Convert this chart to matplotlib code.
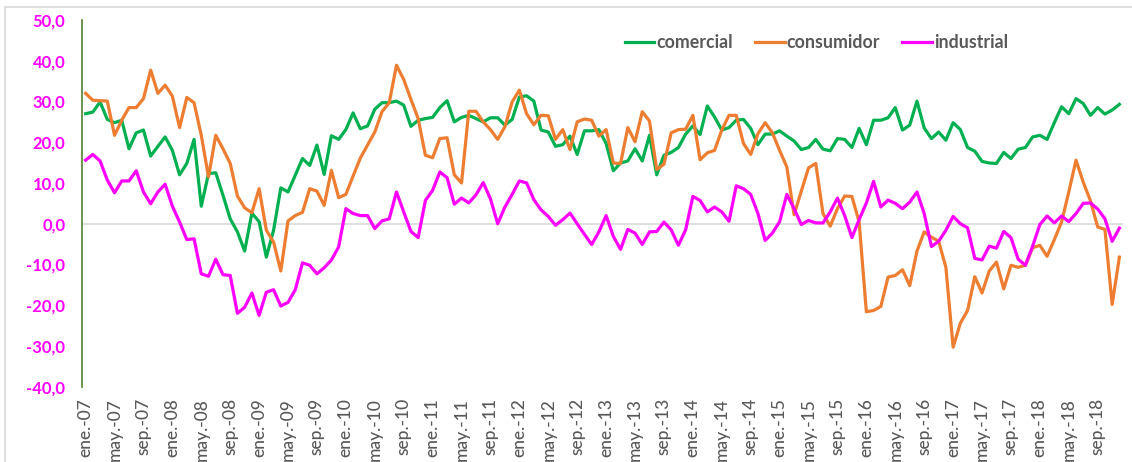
import matplotlib
matplotlib.use("Agg")
import matplotlib.pyplot as plt
from matplotlib.patches import Rectangle
from matplotlib.ticker import FuncFormatter

# ---- data (monthly, ene-2007 .. dic-2018) ----
comercial = [
    27.0, 27.4, 29.9, 25.6, 24.8, 25.4, 18.4, 22.3, 23.0, 16.6, 19.0, 21.3,
    18.0, 12.0, 14.8, 20.7, 4.3, 12.3, 12.5, 7.0, 1.2, -2.0, -6.7, 2.6,
    0.5, -8.2, -1.6, 8.8, 7.8, 11.9, 16.0, 14.3, 19.3, 12.1, 21.6, 20.7,
    23.1, 27.2, 23.3, 24.0, 28.1, 29.7, 29.7, 30.1, 29.1, 23.9, 25.4, 25.8,
    26.1, 28.5, 30.2, 25.0, 26.1, 26.6, 25.8, 25.0, 26.0, 26.0, 24.2, 25.6,
    31.1, 31.4, 30.1, 23.0, 22.5, 19.0, 19.4, 21.5, 17.0, 22.8, 22.8, 23.1,
    19.7, 13.0, 14.9, 15.4, 18.4, 15.4, 21.7, 12.0, 16.8, 17.5, 18.7, 22.0,
    24.0, 21.9, 28.9, 26.2, 23.0, 23.6, 25.4, 25.6, 23.4, 19.4, 22.0, 22.0,
    22.8, 21.5, 20.3, 18.2, 18.7, 20.7, 18.3, 17.9, 20.9, 20.7, 18.7, 23.4,
    19.4, 25.4, 25.4, 26.0, 28.5, 23.0, 24.2, 30.1, 23.5, 20.9, 22.5, 20.5,
    24.8, 23.1, 18.7, 17.8, 15.3, 14.9, 14.8, 17.5, 16.0, 18.3, 18.7, 21.3,
    21.7, 20.7, 24.8, 28.7, 27.0, 30.7, 29.5, 26.6, 28.5, 26.9, 27.9, 29.3,
]
consumidor = [
    32.0, 30.3, 30.2, 30.1, 21.7, 25.4, 28.5, 28.5, 30.7, 37.7, 32.0, 34.0,
    31.3, 23.6, 31.0, 29.7, 21.7, 11.5, 21.7, 18.4, 14.8, 6.8, 3.9, 2.7,
    8.6, -1.6, -4.5, -11.6, 0.7, 2.0, 2.8, 8.6, 8.0, 4.5, 13.1, 6.4,
    7.2, 11.7, 16.1, 19.3, 22.5, 27.5, 29.7, 38.9, 35.4, 30.5, 25.8, 16.8,
    16.2, 20.9, 21.1, 12.0, 10.0, 27.6, 27.6, 25.0, 23.1, 20.7, 23.8, 29.9,
    32.8, 27.0, 24.3, 26.6, 26.5, 20.7, 23.1, 18.2, 25.0, 25.7, 25.4, 21.5,
    23.1, 14.9, 14.8, 23.6, 20.1, 27.5, 25.2, 13.3, 14.6, 22.3, 23.1, 23.2,
    26.6, 15.7, 17.4, 18.0, 23.0, 26.6, 26.6, 19.7, 17.0, 22.1, 24.8, 22.3,
    18.0, 13.9, 2.2, 8.0, 13.7, 14.8, 2.5, -0.6, 3.7, 6.8, 6.7, 0.4,
    -21.6, -21.3, -20.3, -13.1, -12.7, -11.3, -15.2, -6.7, -2.0, -3.3, -4.3, -10.7,
    -30.3, -24.4, -21.3, -13.0, -17.0, -11.6, -9.4, -16.0, -10.2, -10.7, -10.2, -5.9,
    -5.3, -8.0, -3.9, 0.4, 7.8, 15.6, 10.2, 5.6, -0.8, -1.4, -19.8, -8.2,
]
industrial = [
    15.6, 17.0, 15.4, 10.7, 7.6, 10.5, 10.5, 13.0, 7.8, 4.9, 7.8, 9.7,
    4.3, 0.4, -3.9, -3.7, -12.3, -12.9, -8.7, -12.5, -12.7, -22.0, -20.5, -17.0,
    -22.5, -16.8, -16.2, -20.2, -19.3, -16.2, -9.6, -10.2, -12.3, -10.8, -8.9, -5.7,
    3.7, 2.5, 2.0, 2.0, -1.2, 0.7, 1.2, 7.8, 2.9, -1.9, -3.4, 5.7,
    8.2, 12.7, 11.3, 4.8, 6.3, 5.1, 7.1, 10.1, 6.1, 0.0, 4.1, 7.2,
    10.5, 10.0, 5.9, 3.4, 1.8, -0.4, 1.0, 2.6, 0.0, -2.6, -5.1, -2.0,
    2.0, -3.1, -6.3, -1.4, -2.3, -5.1, -2.0, -1.9, 0.4, -1.5, -5.3, -1.5,
    6.7, 5.7, 2.9, 4.1, 2.9, 0.6, 9.3, 8.6, 7.2, 2.5, -4.1, -2.3,
    0.5, 7.2, 3.7, -0.2, 0.8, 0.2, 0.2, 2.9, 6.3, 2.0, -3.4, 1.0,
    5.1, 10.4, 4.1, 5.8, 5.0, 3.7, 5.3, 7.8, 2.5, -5.6, -4.3, -1.6,
    1.8, 0.0, -1.0, -8.5, -8.9, -5.5, -6.0, -1.9, -3.4, -8.7, -10.2, -5.5,
    -0.2, 1.9, 0.2, 1.9, 0.5, 2.5, 5.0, 5.1, 3.6, 1.2, -4.3, -1.1,
]
month_abbr = ["ene.", "feb.", "mar.", "abr.", "may.", "jun.",
              "jul.", "ago.", "sep.", "oct.", "nov.", "dic."]
years = list(range(2007, 2019))
categories = [f"{m}-{y % 100:02d}" for y in years for m in month_abbr]
y_ticks = [-40, -30, -20, -10, 0, 10, 20, 30, 40, 50]

# ---- figure ----
W, H = 1132, 462
fig = plt.figure(figsize=(W / 100, H / 100), dpi=100)
ax = fig.add_axes([82 / W, 1 - 386.7 / H, (1123 - 82) / W, (386.7 - 20) / H])

x = list(range(len(categories)))
ax.plot(x, comercial, color="#00B050", lw=2.3, label="comercial", solid_joinstyle="round")
ax.plot(x, consumidor, color="#ED7D31", lw=2.3, label="consumidor", solid_joinstyle="round")
ax.plot(x, industrial, color="#FF00FF", lw=2.3, label="industrial", solid_joinstyle="round")

ax.axhline(0, color="#D9D9D9", lw=1.2, zorder=0)

ax.set_xlim(-0.5, len(categories) - 0.5)
ax.set_ylim(-40, 50)
ax.set_yticks(y_ticks)
ax.yaxis.set_major_formatter(FuncFormatter(lambda v, p: f"{v:.1f}".replace(".", ",")))
tick_pos = x[::4]
ax.set_xticks(tick_pos)
ax.set_xticklabels([categories[i] for i in tick_pos], rotation=90,
                   fontsize=12.5, color="#595959", family="Lato", fontweight="medium")
for lab in ax.get_yticklabels():
    lab.set_color("#FF00FF")
    lab.set_fontweight("bold")
    lab.set_fontsize(12)
    lab.set_family("Lato")
ax.tick_params(axis="both", length=0)
ax.tick_params(axis="y", pad=12)
ax.tick_params(axis="x", pad=8)

for s in ["top", "right", "bottom"]:
    ax.spines[s].set_visible(False)
ax.spines["left"].set_color("#548235")
ax.spines["left"].set_linewidth(1.2)

leg = fig.legend(loc="center", bbox_to_anchor=(816.5 / W, 1 - 43 / H), ncol=3,
                 frameon=False, handlelength=1.65, handletextpad=0.12,
                 columnspacing=1.25, prop={"family": "Lato", "weight": "bold", "size": 12.8})
for t in leg.get_texts():
    t.set_color("#595959")

fig.patches.append(Rectangle((5 / W, -0.1), 1.2, 1.1 - 7 / H,
                             transform=fig.transFigure, fill=False,
                             edgecolor="#D9D9D9", lw=1.2))

fig.savefig("out.png", dpi=100)
